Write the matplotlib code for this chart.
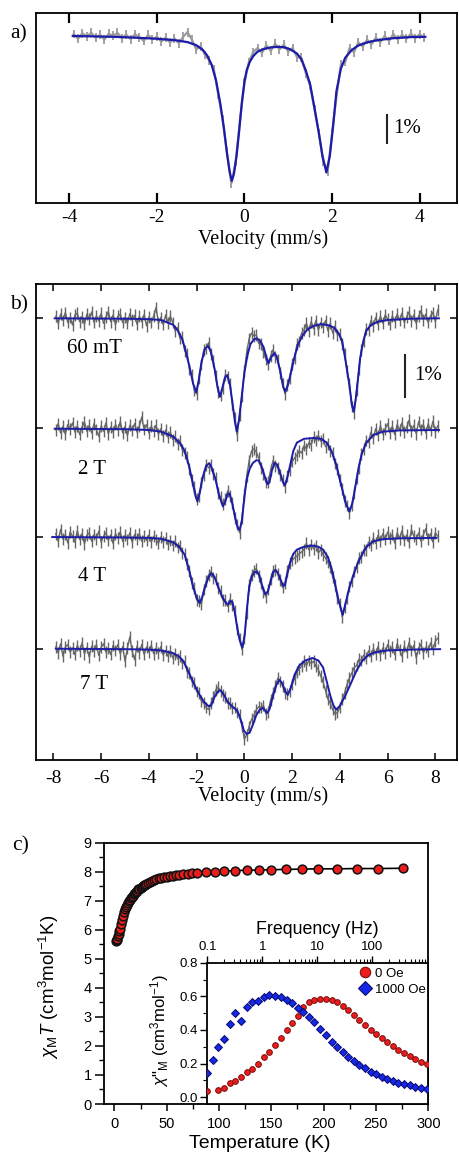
import numpy as np
import matplotlib
matplotlib.use("Agg")
import matplotlib.pyplot as plt
from matplotlib.ticker import MultipleLocator, LogLocator, NullFormatter
from matplotlib.lines import Line2D

plt.rcParams['font.family'] = ['Liberation Serif', 'DejaVu Serif']
plt.rcParams['axes.unicode_minus'] = False
plt.rcParams['mathtext.fontset'] = 'custom'
plt.rcParams['mathtext.rm'] = 'Liberation Sans'
plt.rcParams['mathtext.it'] = 'Liberation Sans:italic'
SANS = ['Liberation Sans', 'DejaVu Sans']

# ---------------- panel a : zero field Mossbauer (transmission, %) ----------------
a_data_t = [0.05, -0.12, 0.08, -0.05, 0.10, -0.08, 0.02, -0.15, 0.06, -0.02,
            0.09, -0.10, 0.03, -0.13, 0.04, -0.06, -0.20, 0.02, -0.14, -0.05,
            -0.22, -0.08, -0.25, -0.10, -0.28, -0.05, 0.12, -0.15, -0.50, -0.38,
            -0.70, -0.90, -1.20, -2.10, -3.00, -4.20, -5.30, -4.50, -3.00, -1.70,
            -0.95, -0.60, -0.45, -0.62, -0.35, -0.55, -0.30, -0.50, -0.33, -0.58,
            -0.45, -0.78, -0.80, -1.35, -1.80, -2.65, -3.50, -4.50, -4.85, -3.50,
            -2.20, -1.05, -0.95, -0.45, -0.60, -0.25, -0.40, -0.15, -0.32, -0.08,
            -0.25, -0.02, -0.20, 0.05, -0.15, 0.02, -0.12, 0.06, -0.10, 0.04,
            -0.08]
a_fit_v = [-3.92, -3.0, -2.5, -2.0, -1.6, -1.3, -1.1, -0.95, -0.85, -0.75,
           -0.65, -0.55, -0.47, -0.40, -0.34, -0.29, -0.24, -0.18, -0.12, -0.06,
           0.0, 0.05, 0.12, 0.2, 0.3, 0.45, 0.6, 0.75, 0.9, 1.05,
           1.2, 1.3, 1.4, 1.5, 1.6, 1.7, 1.78, 1.87, 1.95, 2.02,
           2.1, 2.2, 2.3, 2.45, 2.6, 2.8, 3.0, 3.4, 3.8, 4.13]
a_fit_t = [-0.02, -0.05, -0.08, -0.12, -0.17, -0.24, -0.35, -0.52, -0.72, -1.05,
           -1.6, -2.45, -3.3, -4.2, -4.85, -5.2, -4.95, -4.3, -3.4, -2.4,
           -1.65, -1.25, -0.95, -0.74, -0.58, -0.48, -0.43, -0.41, -0.42, -0.5,
           -0.65, -0.85, -1.25, -1.75, -2.6, -3.5, -4.3, -4.9, -4.3, -3.3,
           -2.0, -1.2, -0.8, -0.52, -0.36, -0.25, -0.18, -0.1, -0.06, -0.05]

# ---------------- panel b : applied field spectra (transmission, %) ----------------
b_labels = ['60 mT', '2 T', '4 T', '7 T']
b_offsets = [0.0, -2.61, -5.21, -7.87]

b_data_60mT = [0.05, -0.12, 0.10, -0.05, 0.14, -0.10, 0.02, -0.16, 0.08, 0.12,
               -0.08, 0.04, -0.14, 0.10, -0.02, 0.15, -0.10, 0.06, -0.06, 0.12,
               -0.12, 0.03, 0.16, -0.08, 0.08, -0.15, 0.05, 0.10, -0.10, 0.02,
               -0.12, 0.11, -0.04, 0.07, -0.14, 0.05, -0.08, 0.09, -0.18, 0.03,
               -0.10, 0.06, 0.26, -0.12, 0.02, -0.15, 0.08, -0.12, 0.05, -0.10,
               -0.30, -0.22, -0.48, -0.45, -0.78, -0.85, -1.22, -1.35, -1.72, -1.80,
               -1.42, -1.10, -0.75, -0.72, -0.58, -0.85, -1.02, -1.38, -1.75, -1.82,
               -1.66, -1.35, -1.40, -1.55, -2.05, -2.38, -2.78, -2.30, -1.85, -1.25,
               -0.80, -0.48, -0.35, -0.42, -0.40, -0.60, -0.62, -0.80, -0.98, -1.10,
               -0.90, -0.75, -0.92, -1.00, -1.30, -1.55, -1.80, -1.58, -1.42, -1.08,
               -0.95, -0.62, -0.55, -0.35, -0.28, -0.12, -0.30, -0.08, -0.25, -0.05,
               -0.28, -0.10, -0.22, -0.05, -0.30, -0.12, -0.35, -0.18, -0.40, -0.38,
               -0.62, -0.85, -1.25, -1.55, -2.10, -2.25, -1.70, -1.20, -0.75, -0.55,
               -0.25, -0.28, -0.05, -0.18, 0.02, -0.15, 0.05, -0.12, 0.08, -0.02,
               -0.15, 0.06, -0.08, 0.10, -0.05, 0.12, -0.10, 0.04, 0.15, -0.06,
               0.08, -0.12, 0.05, 0.18, -0.04, 0.10, -0.10, 0.06, 0.14, -0.08,
               0.20]
b_data_2T = [-0.05, 0.10, -0.12, 0.04, -0.15, 0.08, -0.02, 0.12, -0.10, 0.05,
             -0.16, 0.02, 0.14, -0.08, 0.06, -0.12, 0.10, -0.04, -0.20, 0.05,
             -0.08, 0.12, -0.14, 0.02, -0.10, 0.08, -0.05, 0.15, -0.12, 0.03,
             -0.18, 0.06, -0.06, 0.10, -0.10, 0.05, 0.26, -0.04, 0.08, -0.12,
             0.04, -0.08, 0.06, -0.15, -0.02, -0.20, -0.05, -0.22, -0.10, -0.28,
             -0.20, -0.38, -0.30, -0.52, -0.60, -0.70, -0.98, -1.25, -1.40, -1.70,
             -1.62, -1.30, -1.12, -0.88, -0.95, -0.88, -1.10, -1.20, -1.55, -1.65,
             -1.82, -1.70, -1.50, -1.62, -1.78, -2.15, -2.30, -2.50, -2.15, -1.60,
             -1.15, -0.78, -0.55, -0.50, -0.58, -0.72, -0.95, -1.10, -1.30, -1.28,
             -1.00, -0.78, -0.90, -0.95, -1.12, -1.25, -1.40, -1.15, -1.00, -0.80,
             -0.72, -0.65, -0.55, -0.60, -0.42, -0.50, -0.35, -0.40, -0.22, -0.30,
             -0.18, -0.32, -0.25, -0.45, -0.38, -0.55, -0.60, -0.85, -0.98, -1.25,
             -1.45, -1.75, -1.85, -2.02, -1.85, -1.55, -1.20, -0.95, -0.62, -0.50,
             -0.30, -0.35, -0.10, -0.25, -0.02, -0.18, 0.05, -0.15, -0.02, 0.10,
             -0.12, 0.04, -0.16, 0.08, -0.05, 0.12, -0.10, 0.02, 0.18, -0.08,
             0.06, -0.14, 0.15, -0.04, 0.08, -0.12, 0.10, -0.06, 0.16, -0.10,
             0.05]
b_data_4T = [0.08, -0.10, 0.18, -0.05, 0.06, -0.14, 0.12, 0.02, -0.12, 0.15,
             -0.06, 0.08, -0.16, 0.04, 0.10, -0.10, 0.06, -0.04, 0.14, -0.12,
             0.02, 0.10, -0.08, 0.05, -0.15, 0.08, -0.02, 0.12, -0.10, 0.04,
             -0.06, 0.10, -0.12, 0.06, -0.04, 0.08, -0.10, 0.02, -0.08, 0.05,
             -0.12, 0.02, -0.06, -0.15, 0.00, -0.12, -0.02, -0.18, -0.08, -0.20,
             -0.10, -0.25, -0.20, -0.38, -0.40, -0.65, -0.80, -1.10, -1.22, -1.50,
             -1.52, -1.60, -1.25, -1.05, -0.90, -0.82, -0.98, -1.00, -1.22, -1.28,
             -1.50, -1.50, -1.65, -1.48, -1.62, -1.75, -2.20, -2.42, -2.68, -2.40,
             -1.80, -1.15, -0.90, -0.80, -0.75, -0.92, -1.10, -1.30, -1.42, -1.25,
             -1.00, -0.80, -0.78, -0.88, -1.02, -1.20, -1.10, -0.80, -0.62, -0.55,
             -0.50, -0.45, -0.40, -0.35, -0.30, -0.15, -0.30, -0.18, -0.28, -0.20,
             -0.38, -0.30, -0.42, -0.50, -0.60, -0.72, -0.95, -1.15, -1.45, -1.60,
             -1.90, -1.68, -1.45, -1.18, -1.05, -0.82, -0.72, -0.50, -0.48, -0.30,
             -0.30, -0.12, -0.20, -0.02, -0.15, 0.04, -0.10, 0.08, -0.06, 0.12,
             -0.02, 0.06, -0.14, 0.10, -0.04, 0.15, -0.08, 0.05, -0.12, 0.18,
             0.02, -0.06, 0.10, -0.10, 0.06, 0.20, -0.05, 0.08, -0.12, 0.10,
             0.02]
b_data_7T = [0.05, -0.10, 0.12, -0.18, 0.04, 0.10, -0.08, 0.02, -0.14, 0.08,
             -0.05, 0.14, -0.12, 0.03, -0.20, 0.06, -0.06, 0.10, -0.16, 0.04,
             0.12, -0.08, 0.02, -0.14, 0.08, -0.04, 0.10, -0.12, 0.05, -0.30,
             0.02, 0.28, -0.06, -0.26, 0.06, -0.10, 0.10, -0.14, 0.04, -0.08,
             0.08, -0.12, 0.02, -0.10, 0.05, -0.15, -0.04, -0.18, -0.05, -0.22,
             -0.12, -0.24, -0.18, -0.35, -0.30, -0.55, -0.58, -0.78, -0.82, -1.02,
             -1.05, -1.25, -1.30, -1.40, -1.45, -1.30, -1.15, -0.98, -0.92, -1.00,
             -1.10, -1.15, -1.30, -1.30, -1.42, -1.40, -1.52, -1.58, -1.85, -2.15,
             -2.05, -1.85, -1.68, -1.60, -1.45, -1.38, -1.40, -1.35, -1.55, -1.50,
             -1.22, -1.05, -0.88, -0.70, -0.78, -0.88, -1.05, -1.08, -1.00, -0.85,
             -0.72, -0.55, -0.48, -0.42, -0.30, -0.40, -0.28, -0.35, -0.30, -0.42,
             -0.50, -0.65, -0.80, -1.00, -1.20, -1.30, -1.45, -1.55, -1.52, -1.40,
             -1.20, -1.05, -0.85, -0.70, -0.58, -0.45, -0.40, -0.25, -0.28, -0.15,
             -0.22, -0.05, -0.18, 0.00, -0.12, 0.05, -0.15, 0.02, -0.10, 0.10,
             -0.06, 0.04, -0.14, 0.12, -0.02, -0.18, 0.06, -0.08, 0.15, -0.04,
             0.08, -0.22, 0.02, 0.10, -0.10, 0.04, -0.06, 0.14, -0.02, 0.18,
             0.25]

b_fit_v_60mT = [-7.95, -5.0, -4.0, -3.5, -3.0, -2.8, -2.6, -2.45, -2.3, -2.15,
                -2.02, -1.92, -1.8, -1.65, -1.52, -1.4, -1.25, -1.12, -1.02, -0.92,
                -0.82, -0.72, -0.6, -0.48, -0.4, -0.32, -0.22, -0.1, 0.0, 0.12,
                0.25, 0.4, 0.52, 0.65, 0.8, 0.92, 1.01, 1.12, 1.25, 1.35,
                1.5, 1.62, 1.72, 1.82, 1.95, 2.1, 2.25, 2.45, 2.65, 2.9,
                3.2, 3.5, 3.75, 3.95, 4.1, 4.25, 4.4, 4.5, 4.58, 4.66,
                4.75, 4.85, 4.98, 5.1, 5.3, 5.6, 6.0, 7.0, 8.15]
b_fit_t_60mT = [0.0, -0.01, -0.02, -0.04, -0.15, -0.28, -0.5, -0.8, -1.15, -1.55,
                -1.76, -1.5, -1.05, -0.72, -0.66, -0.8, -1.2, -1.65, -1.87, -1.65,
                -1.42, -1.35, -1.6, -2.1, -2.45, -2.70, -2.4, -1.8, -1.3, -0.9,
                -0.62, -0.5, -0.48, -0.53, -0.68, -0.92, -1.07, -0.93, -0.83, -0.9,
                -1.25, -1.62, -1.75, -1.6, -1.3, -0.92, -0.62, -0.4, -0.26, -0.18,
                -0.14, -0.16, -0.22, -0.36, -0.55, -1.05, -1.6, -2.05, -2.22, -1.95,
                -1.5, -0.95, -0.55, -0.3, -0.16, -0.08, -0.04, -0.01, 0.0]
b_fit_v_2T = [-7.95, -5.0, -4.0, -3.5, -3.0, -2.7, -2.5, -2.3, -2.15, -2.05,
              -1.97, -1.87, -1.75, -1.6, -1.47, -1.35, -1.2, -1.05, -0.9, -0.8,
              -0.7, -0.62, -0.5, -0.38, -0.28, -0.2, -0.1, 0.0, 0.1, 0.22,
              0.35, 0.5, 0.6, 0.72, 0.85, 0.97, 1.05, 1.15, 1.27, 1.38,
              1.5, 1.62, 1.7, 1.8, 1.92, 2.05, 2.2, 2.5, 2.9, 3.2,
              3.45, 3.65, 3.85, 4.05, 4.25, 4.4, 4.52, 4.65, 4.78, 4.92,
              5.1, 5.4, 5.8, 6.5, 8.15]
b_fit_t_2T = [-0.02, -0.03, -0.05, -0.09, -0.2, -0.36, -0.55, -0.95, -1.35, -1.62,
              -1.75, -1.55, -1.18, -0.9, -0.84, -0.98, -1.25, -1.62, -1.87, -1.75,
              -1.58, -1.56, -1.82, -2.15, -2.38, -2.43, -2.2, -1.65, -1.22, -0.98,
              -0.84, -0.77, -0.78, -0.92, -1.15, -1.34, -1.3, -1.02, -0.83, -0.88,
              -1.08, -1.3, -1.36, -1.18, -0.88, -0.55, -0.35, -0.26, -0.24, -0.26,
              -0.35, -0.55, -0.88, -1.35, -1.8, -1.99, -1.8, -1.4, -0.96, -0.62,
              -0.36, -0.17, -0.09, -0.06, -0.05]
b_fit_v_4T = [-8.05, -5.0, -4.0, -3.5, -3.0, -2.75, -2.5, -2.3, -2.15, -2.0,
              -1.88, -1.78, -1.65, -1.5, -1.38, -1.25, -1.1, -0.95, -0.8, -0.68,
              -0.58, -0.5, -0.4, -0.3, -0.2, -0.08, 0.02, 0.1, 0.2, 0.3,
              0.42, 0.52, 0.62, 0.75, 0.88, 0.98, 1.1, 1.2, 1.3, 1.4,
              1.52, 1.62, 1.7, 1.8, 1.92, 2.05, 2.2, 2.4, 2.8, 3.1,
              3.3, 3.5, 3.65, 3.8, 3.95, 4.12, 4.25, 4.4, 4.57, 4.75,
              4.9, 5.1, 5.4, 5.8, 6.5, 8.05]
b_fit_t_4T = [0.0, -0.01, -0.02, -0.04, -0.12, -0.22, -0.42, -0.82, -1.18, -1.45,
              -1.57, -1.45, -1.2, -0.95, -0.86, -0.95, -1.18, -1.4, -1.55, -1.61,
              -1.52, -1.55, -1.8, -2.15, -2.45, -2.63, -2.3, -1.75, -1.2, -0.95,
              -0.84, -0.82, -0.9, -1.17, -1.36, -1.3, -1.06, -0.85, -0.78, -0.85,
              -1.02, -1.16, -1.15, -0.88, -0.6, -0.4, -0.3, -0.25, -0.2, -0.23,
              -0.3, -0.48, -0.74, -1.12, -1.52, -1.85, -1.55, -1.2, -0.9, -0.62,
              -0.45, -0.24, -0.1, -0.05, -0.03, -0.02]
b_fit_v_7T = [-7.9, -5.0, -4.0, -3.5, -3.0, -2.75, -2.55, -2.3, -2.1, -1.9,
              -1.7, -1.5, -1.4, -1.25, -1.1, -1.0, -0.85, -0.7, -0.5, -0.3,
              -0.15, -0.02, 0.1, 0.22, 0.35, 0.5, 0.65, 0.78, 0.95, 1.05,
              1.2, 1.35, 1.47, 1.58, 1.7, 1.82, 1.95, 2.1, 2.3, 2.55,
              2.85, 3.1, 3.3, 3.45, 3.6, 3.73, 3.85, 4.0, 4.2, 4.45,
              4.7, 4.95, 5.2, 5.5, 6.0, 7.0, 8.2]
b_fit_t_7T = [0.0, -0.01, -0.02, -0.04, -0.1, -0.18, -0.3, -0.6, -0.85, -1.08,
              -1.26, -1.37, -1.36, -1.15, -1.01, -0.99, -1.1, -1.27, -1.38, -1.47,
              -1.7, -1.95, -2.03, -2.0, -1.82, -1.58, -1.45, -1.41, -1.53, -1.45,
              -1.12, -0.85, -0.74, -0.82, -1.0, -1.1, -0.92, -0.62, -0.4, -0.28,
              -0.22, -0.28, -0.45, -0.78, -1.12, -1.35, -1.45, -1.36, -1.15, -0.84,
              -0.52, -0.28, -0.15, -0.08, -0.04, -0.02, -0.01]

# ---------------- panel c : chi_M T vs T and ac inset ----------------
chiT_T = [2, 2.5, 3, 3.5, 4, 4.5, 5, 6, 7, 8, 9, 10, 11, 12, 13, 14, 15, 16,
          17, 18, 19, 20, 21, 22, 23, 24, 25, 26, 27, 28, 29, 30,
          32, 34, 36, 38, 40, 42.5, 45, 47.5, 50, 53, 56, 59, 62, 66, 70, 74.5,
          79.3, 87.3, 96.2, 104.8, 115.3, 126.5, 138, 149.4, 163.8, 179,
          194.9, 213.1, 232.2, 252.3, 275.5]
chiT_val = [5.60, 5.64, 5.70, 5.77, 5.86, 5.95, 6.04, 6.20, 6.35, 6.48, 6.60,
            6.70, 6.78, 6.86, 6.92, 6.98, 7.03, 7.08, 7.13, 7.18, 7.23, 7.27,
            7.31, 7.35, 7.39, 7.42, 7.45, 7.48, 7.51, 7.53, 7.56, 7.58,
            7.62, 7.66, 7.69, 7.72, 7.74, 7.77, 7.79, 7.81, 7.83, 7.85, 7.87,
            7.88, 7.90, 7.92, 7.93, 7.95,
            7.96, 7.98, 8.0, 8.02, 8.04, 8.05, 8.06, 8.07, 8.08, 8.09,
            8.10, 8.10, 8.11, 8.11, 8.12]

freq_hz = [0.100, 0.129, 0.158, 0.201, 0.259, 0.319, 0.410, 0.520, 0.658, 0.846,
           1.07, 1.34, 1.70, 2.16, 2.78, 3.47, 4.40, 5.56, 7.06, 8.82,
           11.2, 14.2, 18.3, 22.5, 29.0, 36.6, 46.5, 58.1, 73.6, 93.5,
           117, 148, 187, 235, 297, 377, 484, 597, 759, 975]
chi2_0Oe = [0.037, np.nan, 0.043, 0.057, 0.087, 0.095, 0.122, 0.148, 0.168, 0.198,
            0.238, 0.271, 0.311, 0.35, 0.40, 0.443, 0.485, 0.538, 0.568, 0.578,
            0.582, 0.582, 0.578, 0.564, 0.544, 0.519, 0.489, 0.46, 0.43, 0.40,
            0.376, 0.35, 0.33, 0.305, 0.281, 0.265, 0.245, 0.228, 0.21, 0.198]
chi2_1000Oe = [0.146, 0.221, 0.30, 0.344, 0.433, 0.502, 0.455, 0.535, 0.568, 0.574,
               0.594, 0.608, 0.602, 0.594, 0.578, 0.558, 0.532, 0.508, 0.479, 0.445,
               0.405, 0.37, 0.33, 0.297, 0.267, 0.241, 0.217, 0.192, 0.172, 0.152,
               0.138, 0.122, 0.109, 0.097, 0.087, 0.079, 0.071, 0.063, 0.057, 0.051]

# ---------------- figure ----------------
W, H = 459, 1155
fig = plt.figure(figsize=(W / 100, H / 100), dpi=100)


def rect(l, t, r, b):
    return [l / W, 1 - b / H, (r - l) / W, (b - t) / H]


GRAY_A = '#9b9b9b'
GRAY_B = '#666666'
BLUE = '#1c1caa'

# ----- panel a -----
axa = fig.add_axes(rect(36, 13.3, 457.3, 203.3))
va = np.linspace(-3.9, 4.1, len(a_data_t))
axa.errorbar(va, a_data_t, yerr=0.16, color=GRAY_A, lw=1.6, elinewidth=1.3,
             capsize=0, zorder=1)
axa.plot(a_fit_v, a_fit_t, color=BLUE, lw=1.6, zorder=2)
axa.set_xlim(-4.76, 4.86)
axa.set_ylim(-6.0, 0.79)
axa.set_yticks([])
axa.set_xticks([-4, -2, 0, 2, 4])
axa.tick_params(axis='x', direction='in', top=True, bottom=True, length=7.5,
                width=1.6, labelsize=14, pad=4)
for s in axa.spines.values():
    s.set_linewidth(1.3)
axa.plot([3.26, 3.26], [-2.86, -3.86], color='#222222', lw=1.5)
axa.text(3.39, -3.32, '1%', fontsize=15, ha='left', va='center')
axa.set_xlabel('Velocity (mm/s)', fontsize=14.5)
axa.xaxis.set_label_coords(0.538, -0.135)
fig.text(10 / W, 1 - 34 / H, 'a)', fontsize=15.5, ha='left', va='center')

# ----- panel b -----
axb = fig.add_axes(rect(36, 284.3, 457.3, 760))
spectra_data = [b_data_60mT, b_data_2T, b_data_4T, b_data_7T]
spectra_fit = [(b_fit_v_60mT, b_fit_t_60mT), (b_fit_v_2T, b_fit_t_2T),
               (b_fit_v_4T, b_fit_t_4T), (b_fit_v_7T, b_fit_t_7T)]
label_pos = [(-7.43, -0.73), (-6.98, -1.0), (-6.98, -0.95), (-6.89, -0.84)]
for dat, (fv, ft), off, lab, (lx, ly) in zip(spectra_data, spectra_fit,
                                              b_offsets, b_labels, label_pos):
    vb = np.linspace(-7.9, 8.1, len(dat))
    axb.errorbar(vb, np.asarray(dat) + off, yerr=0.14, color=GRAY_B, lw=1.0,
                 elinewidth=1.0, capsize=0, zorder=1)
    axb.plot(fv, np.asarray(ft) + off, color=BLUE, lw=1.4, zorder=2)
    axb.text(lx, ly + off, lab, fontsize=15, ha='left', va='center')
axb.set_xlim(-8.73, 8.92)
axb.set_ylim(-10.52, 0.81)
axb.set_xticks(np.arange(-8, 9, 2))
axb.set_yticks(b_offsets)
axb.set_yticklabels([])
axb.tick_params(axis='x', direction='in', top=True, bottom=True, length=5,
                width=1.1, labelsize=14, pad=7)
axb.tick_params(axis='y', direction='in', left=True, right=True, length=5,
                width=1.1)
for s in axb.spines.values():
    s.set_linewidth(1.3)
axb.plot([6.74, 6.74], [-0.87, -1.87], color='#222222', lw=1.5)
axb.text(7.12, -1.37, '1%', fontsize=15, ha='left', va='center')
axb.set_xlabel('Velocity (mm/s)', fontsize=14.5)
axb.xaxis.set_label_coords(0.538, -0.056)
fig.text(10 / W, 1 - 305 / H, 'b)', fontsize=15.5, ha='left', va='center')

# ----- panel c main -----
axc = fig.add_axes(rect(104.3, 842.7, 428.3, 1104))
axc.plot(chiT_T, chiT_val, '-', color='k', lw=1.2, zorder=2)
axc.plot(chiT_T, chiT_val, 'o', ms=6.3, mfc='#ea1c1c', mec='#111111',
         mew=1.1, zorder=3, clip_on=False)
axc.set_xlim(-9.6, 300)
axc.set_ylim(0, 9)
axc.xaxis.set_major_locator(MultipleLocator(50))
axc.xaxis.set_minor_locator(MultipleLocator(25))
axc.yaxis.set_major_locator(MultipleLocator(1))
axc.yaxis.set_minor_locator(MultipleLocator(0.5))
axc.tick_params(axis='x', which='major', direction='out', length=5, width=1.1,
                labelsize=10.5, pad=4)
axc.tick_params(axis='y', which='major', direction='out', length=6.5, width=1.1,
                labelsize=10.5, pad=2.5)
axc.tick_params(which='minor', direction='out', length=3.5, width=1.0)
for lab in axc.get_xticklabels() + axc.get_yticklabels():
    lab.set_fontfamily(SANS)
for s in axc.spines.values():
    s.set_linewidth(1.3)
axc.set_xlabel('Temperature (K)', fontsize=14, family=SANS)
axc.xaxis.set_label_coords(0.48, -0.118)
axc.set_ylabel(r'$\chi_{\mathrm{M}}T$ (cm$^{3}$mol$^{-1}$K)', fontsize=13.5,
               family=SANS)
axc.yaxis.set_label_coords(-0.135, 0.45)
fig.text(12 / W, 1 - 846 / H, 'c)', fontsize=15.5, ha='left', va='center')

# ----- panel c inset -----
axi = fig.add_axes(rect(207.3, 962.7, 428.3, 1104))
axi.set_xscale('log')
axi.plot(freq_hz, chi2_0Oe, 'o', ms=4.1, mfc='#ea1c1c', mec='#7a0d0d',
         mew=0.7, zorder=3)
axi.plot(freq_hz, chi2_1000Oe, 'D', ms=4.1, mfc='#1428e6', mec='#0a0a70',
         mew=0.7, zorder=3)
axi.set_xlim(0.1, 1040)
axi.set_ylim(-0.04, 0.8)
axi.xaxis.tick_top()
axi.xaxis.set_label_position('top')
axi.set_xticks([0.1, 1, 10, 100])
axi.set_xticklabels(['0.1', '1', '10', '100'])
axi.xaxis.set_minor_locator(LogLocator(base=10, subs=np.arange(2, 10)))
axi.xaxis.set_minor_formatter(NullFormatter())
axi.set_yticks([0.0, 0.2, 0.4, 0.6, 0.8])
axi.set_yticklabels(['0.0', '0.2', '0.4', '0.6', '0.8'])
axi.yaxis.set_minor_locator(MultipleLocator(0.1))
axi.tick_params(which='major', direction='out', length=5, width=1.0,
                labelsize=9.5, pad=2)
axi.tick_params(which='minor', direction='out', length=3, width=0.8)
for lab in axi.get_xticklabels() + axi.get_yticklabels():
    lab.set_fontfamily(SANS)
for s in axi.spines.values():
    s.set_linewidth(1.3)
axi.set_xlabel('Frequency (Hz)', fontsize=12.8, family=SANS, labelpad=5)
axi.set_ylabel(r'$\chi$"$_{\mathrm{M}}$ (cm$^{3}$mol$^{-1}$)', fontsize=12,
               family=SANS)
axi.yaxis.set_label_coords(-0.165, 0.52)
handles = [Line2D([], [], ls='none', marker='o', ms=7.5, mfc='#ea1c1c',
                  mec='#7a0d0d', mew=0.8),
           Line2D([], [], ls='none', marker='D', ms=7, mfc='#1428e6',
                  mec='#0a0a70', mew=0.8)]
leg = axi.legend(handles, ['0 Oe', '1000 Oe'], loc='upper left',
                 bbox_to_anchor=(0.64, 1.02), frameon=False, handletextpad=0.2,
                 labelspacing=0.25, handlelength=1.2, borderaxespad=0.2,
                 prop={'family': SANS, 'size': 9.5})

fig.savefig('out.png', dpi=100)
